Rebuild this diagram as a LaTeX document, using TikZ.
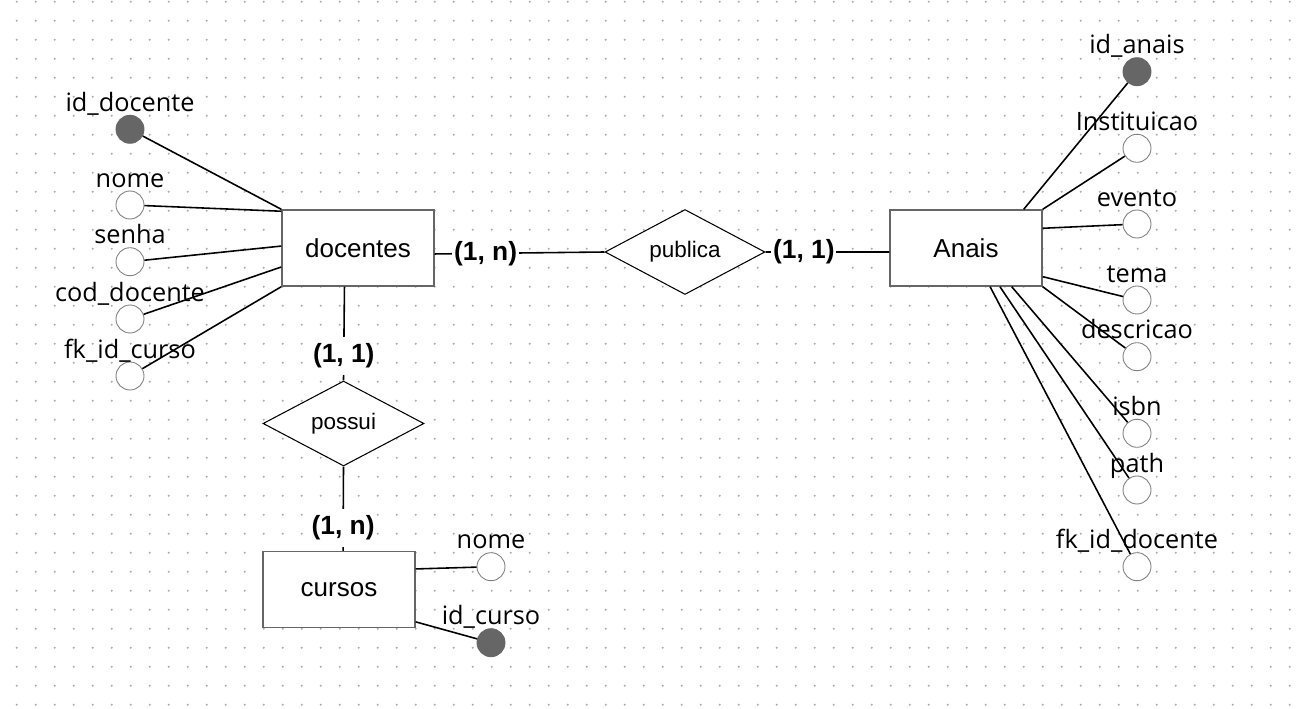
\documentclass[tikz,border=0pt]{standalone}
\usepackage{fontspec}
\setmainfont{Liberation Sans}
\newfontfamily\attrfont{Open Sans}
\usepackage{tikz}
\usetikzlibrary{shapes.geometric}
\tikzstyle{entity}=[rectangle, draw=black!60, line width=0.8pt, fill=white, minimum width=3.04cm, minimum height=1.52cm, inner sep=0pt, font=\fontsize{14.8pt}{16pt}\selectfont]
\tikzstyle{rel}=[diamond, aspect=1.9, draw, line width=0.6pt, fill=white, minimum width=3.22cm, minimum height=1.7cm, inner sep=0pt, font=\fontsize{12.8pt}{14pt}\selectfont]
\tikzstyle{attr}=[circle, draw=black!50, line width=0.5pt, fill=white, minimum size=0.56cm, inner sep=0pt, label distance=0.02cm]
\tikzstyle{pk}=[attr, draw=black!60, fill=black!60]
\tikzstyle{lbl}=[anchor=base, yshift=2pt, inner sep=0pt, font=\attrfont\fontsize{14.4pt}{16pt}\selectfont]
\tikzstyle{card}=[fill=white, inner xsep=1pt, inner ysep=4pt, font=\bfseries\fontsize{15pt}{17pt}\selectfont]

\begin{document}
\begin{tikzpicture}[x=0.02cm, y=-0.02cm, line width=0.9pt]

% background + dot grid
\fill[white] (0,0) rectangle (1298,709);
\useasboundingbox (0,0) rectangle (1298,709);
\foreach \i in {0,...,67}
    \foreach \j in {0,...,37}
        \fill[black!32] ({16.7+19*\i}, {1.7+19*\j}) circle (0.65pt);


% Entities
\node[entity] (docentes) at (358,248) {docentes};
\node[entity] (anais) at (966,248) {Anais};
\node[entity] (cursos) at (339,589.5) {cursos};

% Relationships
\node[rel, minimum width=3.2cm] (publica) at (685,252) {publica};
\node[rel] (possui) at (343.5,423.5) {possui};

\draw ([yshift=-3.4pt]docentes.east) to node[card, pos=.3] {(1, n)} (publica.west);
\draw (publica.east) to node[card, pos=.31] {(1, 1)} ([yshift=-2.3pt]anais.west);
\draw ([xshift=-7.7pt]docentes.south) to node[card, pos=.74] {(1, 1)} (possui.north);
\draw (possui.south) to node[card, pos=.73] {(1, n)} ([xshift=2.3pt]cursos.north);


% Attributes docentes
\node[pk, label={[lbl]90:id\_docente}] (d1) at (130,129.3) {};
\node[attr, label={[lbl]90:nome}] (d2) at (130,205) {};
\node[attr, label={[lbl]90:senha}] (d3) at (130,261.7) {};
\node[attr, label={[lbl]90:cod\_docente}] (d4) at (130,319) {};
\node[attr, label={[lbl]90:fk\_id\_curso}] (d5) at (130,376) {};

\draw (d1) to (docentes.north west);
\draw (d2) to ([yshift=-1.1pt]docentes.north west);
\draw (d3) to ([yshift=1.1pt]docentes.west);
\draw (d4) to ([yshift=-10.8pt]docentes.west);
\draw (d5) to (docentes.south west);

% Attributes Anais
\node[pk, label={[lbl]90:id\_anais}] (a1) at (1137,71.7) {};
\node[attr, label={[lbl]90:Instituicao}] (a2) at (1137,148.3) {};
\node[attr, label={[lbl]90:evento}] (a3) at (1137,224) {};
\node[attr, label={[lbl]90:tema}] (a4) at (1137,300) {};
\node[attr, label={[lbl]90:descricao}] (a5) at (1137,356.7) {};
\node[attr, label={[lbl]90:isbn}] (a6) at (1137,433.3) {};
\node[attr, label={[lbl]90:path}] (a7) at (1137,490) {};
\node[attr, label={[lbl]90:fk\_id\_docente}] (a8) at (1137,566.7) {};

\draw ([xshift=-10.8pt]anais.north east) to (a1);
\draw (anais.north east) to (a2);
\draw ([yshift=-10.8pt]anais.north east) to (a3);
\draw ([yshift=5.7pt]anais.south east) to (a4);
\draw (anais.south east) to (a5);
\draw ([xshift=26pt]anais.south) to (a6);
\draw ([xshift=19.3pt]anais.south) to (a7);
\draw ([xshift=13.7pt]anais.south) to (a8);

% Attributes cursos
\node[attr, label={[lbl]90:nome}] (c1) at (491,566.7) {};
\node[pk, label={[lbl]90:id\_curso}] (c2) at (491,642.7) {};

\draw ([yshift=11.7pt]cursos.east) to (c1);
\draw ([yshift=3.6pt]cursos.south east) to (c2);

\end{tikzpicture}
\end{document}
